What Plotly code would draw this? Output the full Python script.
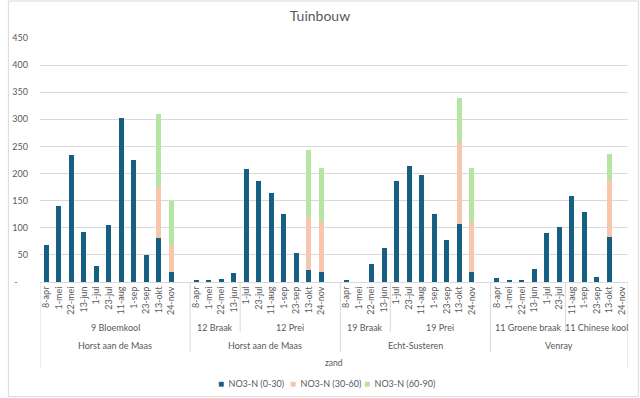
import plotly.graph_objects as go
from itertools import accumulate

# ---------------- data ----------------
date_labels = [
    "8-apr", "1-mei", "22-mei", "13-jun", "1-jul", "23-jul", "11-aug", "1-sep", "23-sep", "13-okt", "24-nov", "",
    "8-apr", "1-mei", "22-mei", "13-jun",
    "1-jul", "23-jul", "11-aug", "1-sep", "23-sep", "13-okt", "24-nov", "",
    "8-apr", "1-mei", "22-mei", "13-jun",
    "1-jul", "23-jul", "11-aug", "1-sep", "23-sep", "13-okt", "24-nov", "",
    "8-apr", "1-mei", "22-mei", "13-jun", "1-jul", "23-jul",
    "11-aug", "1-sep", "23-sep", "13-okt", "24-nov",
]
crop_labels = ["9 Bloemkool", "12 Braak", "12 Prei", "19 Braak", "19 Prei",
               "11 Groene braak", "11 Chinese kool"]
crop_sizes = [12, 4, 8, 4, 8, 6, 5]
place_labels = ["Horst aan de Maas", "Horst aan de Maas", "Echt-Susteren", "Venray"]
place_sizes = [12, 12, 12, 11]
soil_label = "zand"

no3_0_30 = [
    68, 140, 235, 93, 29, 106, 302, 225, 49, 82, 18, None,
    4, 3, 6, 17,
    209, 187, 164, 126, 54, 22, 19, None,
    4, None, 34, 63,
    187, 214, 198, 126, 77, 107, 19, None,
    7, 3, 4, 24, 91, 101,
    158, 129, 9, 83, None,
]
no3_30_60 = [
    None, None, None, None, None, None, None, None, None, 94, 51, None,
    None, None, None, None,
    None, None, None, None, None, 98, 91, None,
    None, None, None, None,
    None, None, None, None, None, 152, 92, None,
    None, None, None, None, None, None,
    None, None, None, 106, None,
]
no3_60_90 = [
    None, None, None, None, None, None, None, None, None, 133, 80, None,
    None, None, None, None,
    None, None, None, None, None, 123, 100, None,
    None, None, None, None,
    None, None, None, None, None, 80, 99, None,
    None, None, None, None, None, None,
    None, None, None, 47, None,
]
series_names = ["NO3-N (0-30)", "NO3-N (30-60)", "NO3-N (60-90)"]
y_ticks = [0, 50, 100, 150, 200, 250, 300, 350, 400, 450]
y_tick_text = ["-\u2007\u2007"] + [str(v) for v in y_ticks[1:]]

# ---------------- styling ----------------
W, H = 640, 398
ML, MR, MT, MB = 33, 12, 38, 116
FONT = "Lato, 'Open Sans', sans-serif"
TXT = "#595959"
GRID = "#D9D9D9"
colors = ["#156082", "#F6C6AD", "#B4E5A2"]
legend_left_px = [211, 284, 359]   # left edge of each legend entry (pixels)

plot_h = H - MT - MB
plot_w = W - ML - MR


def py(pixel_y):
    """pixel row (from top of figure) -> paper y"""
    return (H - MB - pixel_y) / plot_h


def px(pixel_x):
    return (pixel_x - ML) / plot_w


xs = list(range(len(date_labels)))

fig = go.Figure()
for name, vals, col in zip(series_names, [no3_0_30, no3_30_60, no3_60_90], colors):
    fig.add_trace(go.Bar(x=xs, y=vals, name=name, marker=dict(color=col, line=dict(width=0)),
                         showlegend=False))

# ---------------- category hierarchy dividers & labels ----------------
shapes = []
annotations = []

crop_edges = [-0.5] + [e - 0.5 for e in accumulate(crop_sizes)]
place_edges = [-0.5] + [e - 0.5 for e in accumulate(place_sizes)]
outer = {place_edges[0], place_edges[-1]}

for e in place_edges:
    bottom = 369 if e in outer else 352
    shapes.append(dict(type="line", xref="x", yref="paper", x0=e, x1=e, y0=0, y1=py(bottom),
                       line=dict(color=GRID, width=1)))
for e in crop_edges:
    if e in place_edges:
        continue
    shapes.append(dict(type="line", xref="x", yref="paper", x0=e, x1=e, y0=0, y1=py(332),
                       line=dict(color=GRID, width=1)))

for lab, a, b in zip(crop_labels, crop_edges[:-1], crop_edges[1:]):
    annotations.append(dict(text=lab, x=(a + b) / 2, xref="x", y=py(328), yref="paper",
                            showarrow=False, xanchor="center", yanchor="middle",
                            font=dict(size=9, color=TXT, family=FONT)))
for lab, a, b in zip(place_labels, place_edges[:-1], place_edges[1:]):
    annotations.append(dict(text=lab, x=(a + b) / 2, xref="x", y=py(345), yref="paper",
                            showarrow=False, xanchor="center", yanchor="middle",
                            font=dict(size=9, color=TXT, family=FONT)))
annotations.append(dict(text=soil_label, x=(place_edges[0] + place_edges[-1]) / 2, xref="x",
                        y=py(363), yref="paper", showarrow=False, xanchor="center",
                        yanchor="middle", font=dict(size=8.5, color=TXT, family=FONT)))

# legend entries (small square swatch + series name)
for name, col, lx in zip(series_names, colors, legend_left_px):
    annotations.append(dict(
        text=f"<span style='color:{col};font-size:10px'>\u25A0</span>\u2002{name}",
        x=px(lx), xref="paper", y=py(383), yref="paper", showarrow=False,
        xanchor="left", yanchor="middle", font=dict(size=9, color=TXT, family=FONT)))

# chart border
shapes.append(dict(type="rect", xref="paper", yref="paper", x0=px(1), x1=px(638.5),
                   y0=py(396.5), y1=py(1), line=dict(color=GRID, width=1), layer="below"))

fig.update_layout(
    width=W, height=H, autosize=False,
    margin=dict(l=ML, r=MR, t=MT, b=MB, pad=0),
    paper_bgcolor="white", plot_bgcolor="white",
    barmode="stack", bargap=0.6, showlegend=False,
    font=dict(family=FONT, color=TXT, size=9),
    title=dict(text="Tuinbouw", x=0.5, xref="container", xanchor="center",
               y=1 - 16 / H, yref="container", yanchor="middle",
               font=dict(size=14, color=TXT, family=FONT)),
    xaxis=dict(range=[-0.5, len(xs) - 0.5], tickmode="array", tickvals=xs, ticktext=date_labels,
               tickangle=-90, tickfont=dict(size=9, color=TXT, family=FONT),
               showgrid=False, zeroline=False, showline=True, linecolor=GRID, linewidth=1,
               ticks=""),
    yaxis=dict(range=[0, 450], tickmode="array", tickvals=y_ticks, ticktext=y_tick_text,
               tickfont=dict(size=9, color=TXT, family=FONT), showgrid=True, gridcolor=GRID,
               gridwidth=1, zeroline=False, showline=False, ticks="", ticklabelstandoff=11),
    shapes=shapes,
    annotations=annotations,
)

fig.write_html("out.html", config={"displayModeBar": False},
               post_script="document.body.style.margin='0';")
